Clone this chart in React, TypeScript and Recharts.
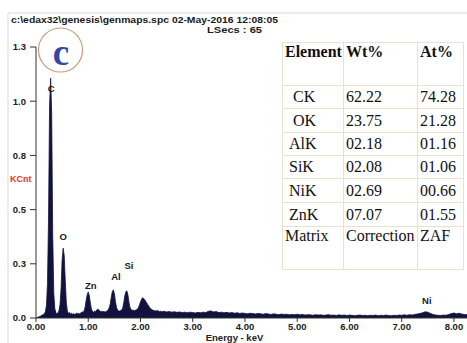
import { AreaChart, Area, XAxis, YAxis, ReferenceDot } from 'recharts';

// EDS spectrum channels (keV) and counts (KCnt)
const energyKeV = [
  0, 0.02, 0.04, 0.06, 0.08, 0.1, 0.12, 0.14, 0.16, 0.18,
  0.2, 0.22, 0.24, 0.26, 0.28, 0.3, 0.32, 0.34, 0.36, 0.38,
  0.4, 0.42, 0.44, 0.46, 0.48, 0.5, 0.52, 0.54, 0.56, 0.58,
  0.6, 0.62, 0.64, 0.66, 0.68, 0.7, 0.72, 0.74, 0.76, 0.78,
  0.8, 0.82, 0.84, 0.86, 0.88, 0.9, 0.92, 0.94, 0.96, 0.98,
  1.0, 1.02, 1.04, 1.06, 1.08, 1.1, 1.12, 1.14, 1.16, 1.18,
  1.2, 1.22, 1.24, 1.26, 1.28, 1.3, 1.32, 1.34, 1.36, 1.38,
  1.4, 1.42, 1.44, 1.46, 1.48, 1.5, 1.52, 1.54, 1.56, 1.58,
  1.6, 1.62, 1.64, 1.66, 1.68, 1.7, 1.72, 1.74, 1.76, 1.78,
  1.8, 1.82, 1.84, 1.86, 1.88, 1.9, 1.92, 1.94, 1.96, 1.98,
  2.0, 2.02, 2.04, 2.06, 2.08, 2.1, 2.12, 2.14, 2.16, 2.18,
  2.2, 2.22, 2.24, 2.26, 2.28, 2.3, 2.32, 2.34, 2.36, 2.38,
  2.4,
  2.45, 2.5, 2.55, 2.6, 2.65, 2.7, 2.75, 2.8, 2.85, 2.9,
  2.95, 3.0, 3.05, 3.1, 3.15, 3.2, 3.25, 3.3, 3.35, 3.4,
  3.45, 3.5, 3.55, 3.6, 3.65, 3.7, 3.75, 3.8, 3.85, 3.9,
  3.95, 4.0, 4.05, 4.1, 4.15, 4.2, 4.25, 4.3, 4.35, 4.4,
  4.45, 4.5, 4.55, 4.6, 4.65, 4.7, 4.75, 4.8, 4.85, 4.9,
  4.95, 5.0, 5.05, 5.1, 5.15, 5.2, 5.25, 5.3, 5.35, 5.4,
  5.45, 5.5, 5.55, 5.6, 5.65, 5.7, 5.75, 5.8, 5.85, 5.9,
  5.95, 6.0, 6.05, 6.1, 6.15, 6.2, 6.25, 6.3, 6.35, 6.4,
  6.45, 6.5, 6.55, 6.6, 6.65, 6.7, 6.75, 6.8, 6.85, 6.9,
  6.95, 7.0, 7.05, 7.1, 7.15, 7.2, 7.25, 7.3, 7.35, 7.4,
  7.45, 7.5, 7.55, 7.6, 7.65, 7.7, 7.75, 7.8, 7.85, 7.9,
  7.95, 8.0, 8.05, 8.1, 8.15, 8.2, 8.25,
];

const kcnt = [
  0.0, 0.002, 0.004, 0.006, 0.008, 0.011, 0.014, 0.017, 0.021, 0.03,
  0.06, 0.165, 0.48, 1.02, 1.15, 0.98, 0.4, 0.12, 0.045, 0.026,
  0.02, 0.024, 0.036, 0.065, 0.14, 0.28, 0.335, 0.3, 0.18, 0.075,
  0.034, 0.022, 0.026, 0.019, 0.023, 0.018, 0.021, 0.017, 0.02, 0.024,
  0.019, 0.023, 0.018, 0.025, 0.03, 0.026, 0.034, 0.052, 0.085, 0.112,
  0.125, 0.108, 0.072, 0.044, 0.032, 0.028, 0.033, 0.03, 0.038, 0.042,
  0.04, 0.034, 0.03, 0.033, 0.029, 0.032, 0.028, 0.031, 0.034, 0.039,
  0.048, 0.066, 0.098, 0.126, 0.135, 0.117, 0.08, 0.052, 0.038, 0.035,
  0.033, 0.036, 0.038, 0.048, 0.074, 0.106, 0.126, 0.13, 0.11, 0.074,
  0.05, 0.04, 0.037, 0.038, 0.035, 0.037, 0.039, 0.042, 0.05, 0.062,
  0.078, 0.09, 0.097, 0.094, 0.088, 0.08, 0.072, 0.064, 0.056, 0.049,
  0.044, 0.04, 0.037, 0.034, 0.036, 0.032, 0.037, 0.034, 0.031, 0.033,
  0.03,
  0.032, 0.029, 0.031, 0.028, 0.03, 0.027, 0.029, 0.026, 0.028, 0.025,
  0.028, 0.026, 0.024, 0.027, 0.025, 0.028, 0.026, 0.032, 0.034, 0.029,
  0.031, 0.026, 0.028, 0.025, 0.027, 0.024, 0.026, 0.023, 0.025, 0.022,
  0.024, 0.022, 0.02, 0.023, 0.021, 0.019, 0.022, 0.02, 0.018, 0.021,
  0.019, 0.017, 0.02, 0.018, 0.016, 0.019, 0.017, 0.018, 0.015, 0.017,
  0.016, 0.018, 0.015, 0.017, 0.014, 0.016, 0.015, 0.013, 0.016, 0.014,
  0.015, 0.013, 0.014, 0.016, 0.013, 0.014, 0.012, 0.015, 0.013, 0.014,
  0.012, 0.014, 0.013, 0.011, 0.013, 0.014, 0.012, 0.013, 0.011, 0.013,
  0.012, 0.014, 0.011, 0.013, 0.012, 0.014, 0.012, 0.011, 0.013, 0.012,
  0.014, 0.013, 0.015, 0.013, 0.016, 0.014, 0.017, 0.019, 0.022, 0.025,
  0.03, 0.028, 0.022, 0.017, 0.014, 0.013, 0.012, 0.014, 0.013, 0.017,
  0.021, 0.024, 0.02, 0.023, 0.019, 0.017, 0.016,
];

const xTicks = [0, 1, 2, 3, 4, 5, 6, 7, 8];
const yTicks = [0, 0.26, 0.52, 0.78, 1.04, 1.3];

// peak labels: element, energy and label height
const peakNames = ['C', 'O', 'Zn', 'Al', 'Si', 'Ni'];
const peakEnergy = [0.29, 0.52, 1.05, 1.53, 1.78, 7.48];
const peakLabelY = [1.1, 0.39, 0.155, 0.2, 0.25, 0.085];

// quantification table
const elements = ['CK', 'OK', 'AlK', 'SiK', 'NiK', 'ZnK'];
const elementIndent = ['\u00a0\u00a0', '\u00a0\u00a0', '\u00a0', '\u00a0', '\u00a0', '\u00a0'];
const wtPct = ['62.22', '23.75', '02.18', '02.08', '02.69', '07.07'];
const atPct = ['74.28', '21.28', '01.16', '01.06', '00.66', '01.55'];
const rowHeights = [23, 24, 23, 23, 24, 24];

const spectrum = energyKeV.map((e, i) => ({ energy: e, kcnt: kcnt[i] }));

const NAVY = '#12123f';
const SANS = '"Liberation Sans", Arial, sans-serif';
const SERIF = '"Liberation Serif", "Times New Roman", serif';

const tickStyle = { fontSize: 9.5, fontWeight: 'bold' as const, fill: '#222', fontFamily: SANS };

const cell = {
  border: '1px solid #ebe1d0',
  padding: '0 2px',
  fontFamily: SERIF,
  fontSize: 16,
  color: '#111',
  whiteSpace: 'nowrap' as const,
};

export default function App() {
  return (
    <div style={{ position: 'absolute', left: 0, top: 0, width: 467, height: 343, background: '#fff', overflow: 'hidden' }}>
      <AreaChart width={467} height={343} data={spectrum} margin={{ top: 47, right: 0, bottom: 0, left: 0 }}>
        <XAxis
          dataKey="energy"
          type="number"
          domain={[0, 8.25]}
          ticks={xTicks}
          allowDataOverflow
          tickFormatter={(v: number) => v.toFixed(2)}
          tick={tickStyle}
          tickSize={4}
          tickMargin={1}
          height={25}
          stroke="#333"
          label={({ viewBox }: any) => (
            <text
              x={viewBox.x + viewBox.width / 2 - 17}
              y={341}
              textAnchor="middle"
              style={{ ...tickStyle, fontSize: 9.5 }}
            >
              Energy - keV
            </text>
          )}
        />
        <YAxis
          type="number"
          domain={[0, 1.3]}
          ticks={yTicks}
          tickFormatter={(v: number) => v.toFixed(1)}
          tick={tickStyle}
          tickSize={6}
          tickMargin={4}
          width={36}
          stroke="#333"
        />
        <Area
          type="linear"
          dataKey="kcnt"
          stroke={NAVY}
          strokeWidth={0.8}
          fill={NAVY}
          fillOpacity={1}
          baseValue={0}
          dot={false}
          activeDot={false}
          isAnimationActive={false}
        />
        {peakNames.map((name, i) => (
          <ReferenceDot
            key={name}
            x={peakEnergy[i]}
            y={peakLabelY[i]}
            r={0}
            fill="none"
            stroke="none"
            ifOverflow="visible"
            label={{ value: name, position: 'center', style: { ...tickStyle, fill: '#1a1a1a' } }}
          />
        ))}
      </AreaChart>

      <svg width={467} height={343} style={{ position: 'absolute', left: 0, top: 0, pointerEvents: 'none' }}>
        <line x1={8} y1={13} x2={467} y2={13} stroke="#d9d9d9" strokeWidth={1} />
        <line x1={8} y1={13} x2={8} y2={343} stroke="#d9d9d9" strokeWidth={1} />
        <text x={11} y={22.5} textLength={267} lengthAdjust="spacingAndGlyphs" style={{ fontFamily: SANS, fontWeight: 'bold', fontSize: 9.5, fill: '#1a1a1a' }}>
          c:\edax32\genesis\genmaps.spc  02-May-2016 12:08:05
        </text>
        <text x={207} y={32.5} textLength={55} lengthAdjust="spacingAndGlyphs" style={{ fontFamily: SANS, fontWeight: 'bold', fontSize: 9.5, fill: '#1a1a1a' }}>
          LSecs :  65
        </text>
        <circle cx={60.5} cy={50} r={22} fill="#fff" stroke="#c49b7a" strokeWidth={1.2} />
        <text x={61} y={65} textAnchor="middle" style={{ fontFamily: SERIF, fontWeight: 'bold', fontSize: 37, fill: '#3447a6' }}>
          c
        </text>
        <text x={10} y={182} style={{ fontFamily: SANS, fontWeight: 'bold', fontSize: 9, fill: '#e5332a' }}>
          KCnt
        </text>
      </svg>

      <table
        style={{
          position: 'absolute',
          left: 282,
          top: 42,
          width: 181,
          borderCollapse: 'collapse',
          tableLayout: 'fixed',
          background: '#fff',
          border: '1px solid #ebe1d0',
        }}
      >
        <colgroup>
          <col style={{ width: 61 }} />
          <col style={{ width: 74 }} />
          <col style={{ width: 46 }} />
        </colgroup>
        <tbody>
          <tr style={{ height: 43 }}>
            <td style={{ ...cell, fontWeight: 'bold', verticalAlign: 'top' }}>Element</td>
            <td style={{ ...cell, fontWeight: 'bold', verticalAlign: 'top' }}>Wt%</td>
            <td style={{ ...cell, fontWeight: 'bold', verticalAlign: 'top' }}>At%</td>
          </tr>
          {elements.map((el, i) => (
            <tr key={el} style={{ height: rowHeights[i] }}>
              <td style={cell}>{elementIndent[i] + el}</td>
              <td style={cell}>{wtPct[i]}</td>
              <td style={cell}>{atPct[i]}</td>
            </tr>
          ))}
          <tr style={{ height: 43 }}>
            <td style={{ ...cell, verticalAlign: 'top' }}>Matrix</td>
            <td style={{ ...cell, verticalAlign: 'top' }}>Correction</td>
            <td style={{ ...cell, verticalAlign: 'top' }}>ZAF</td>
          </tr>
        </tbody>
      </table>
    </div>
  );
}
